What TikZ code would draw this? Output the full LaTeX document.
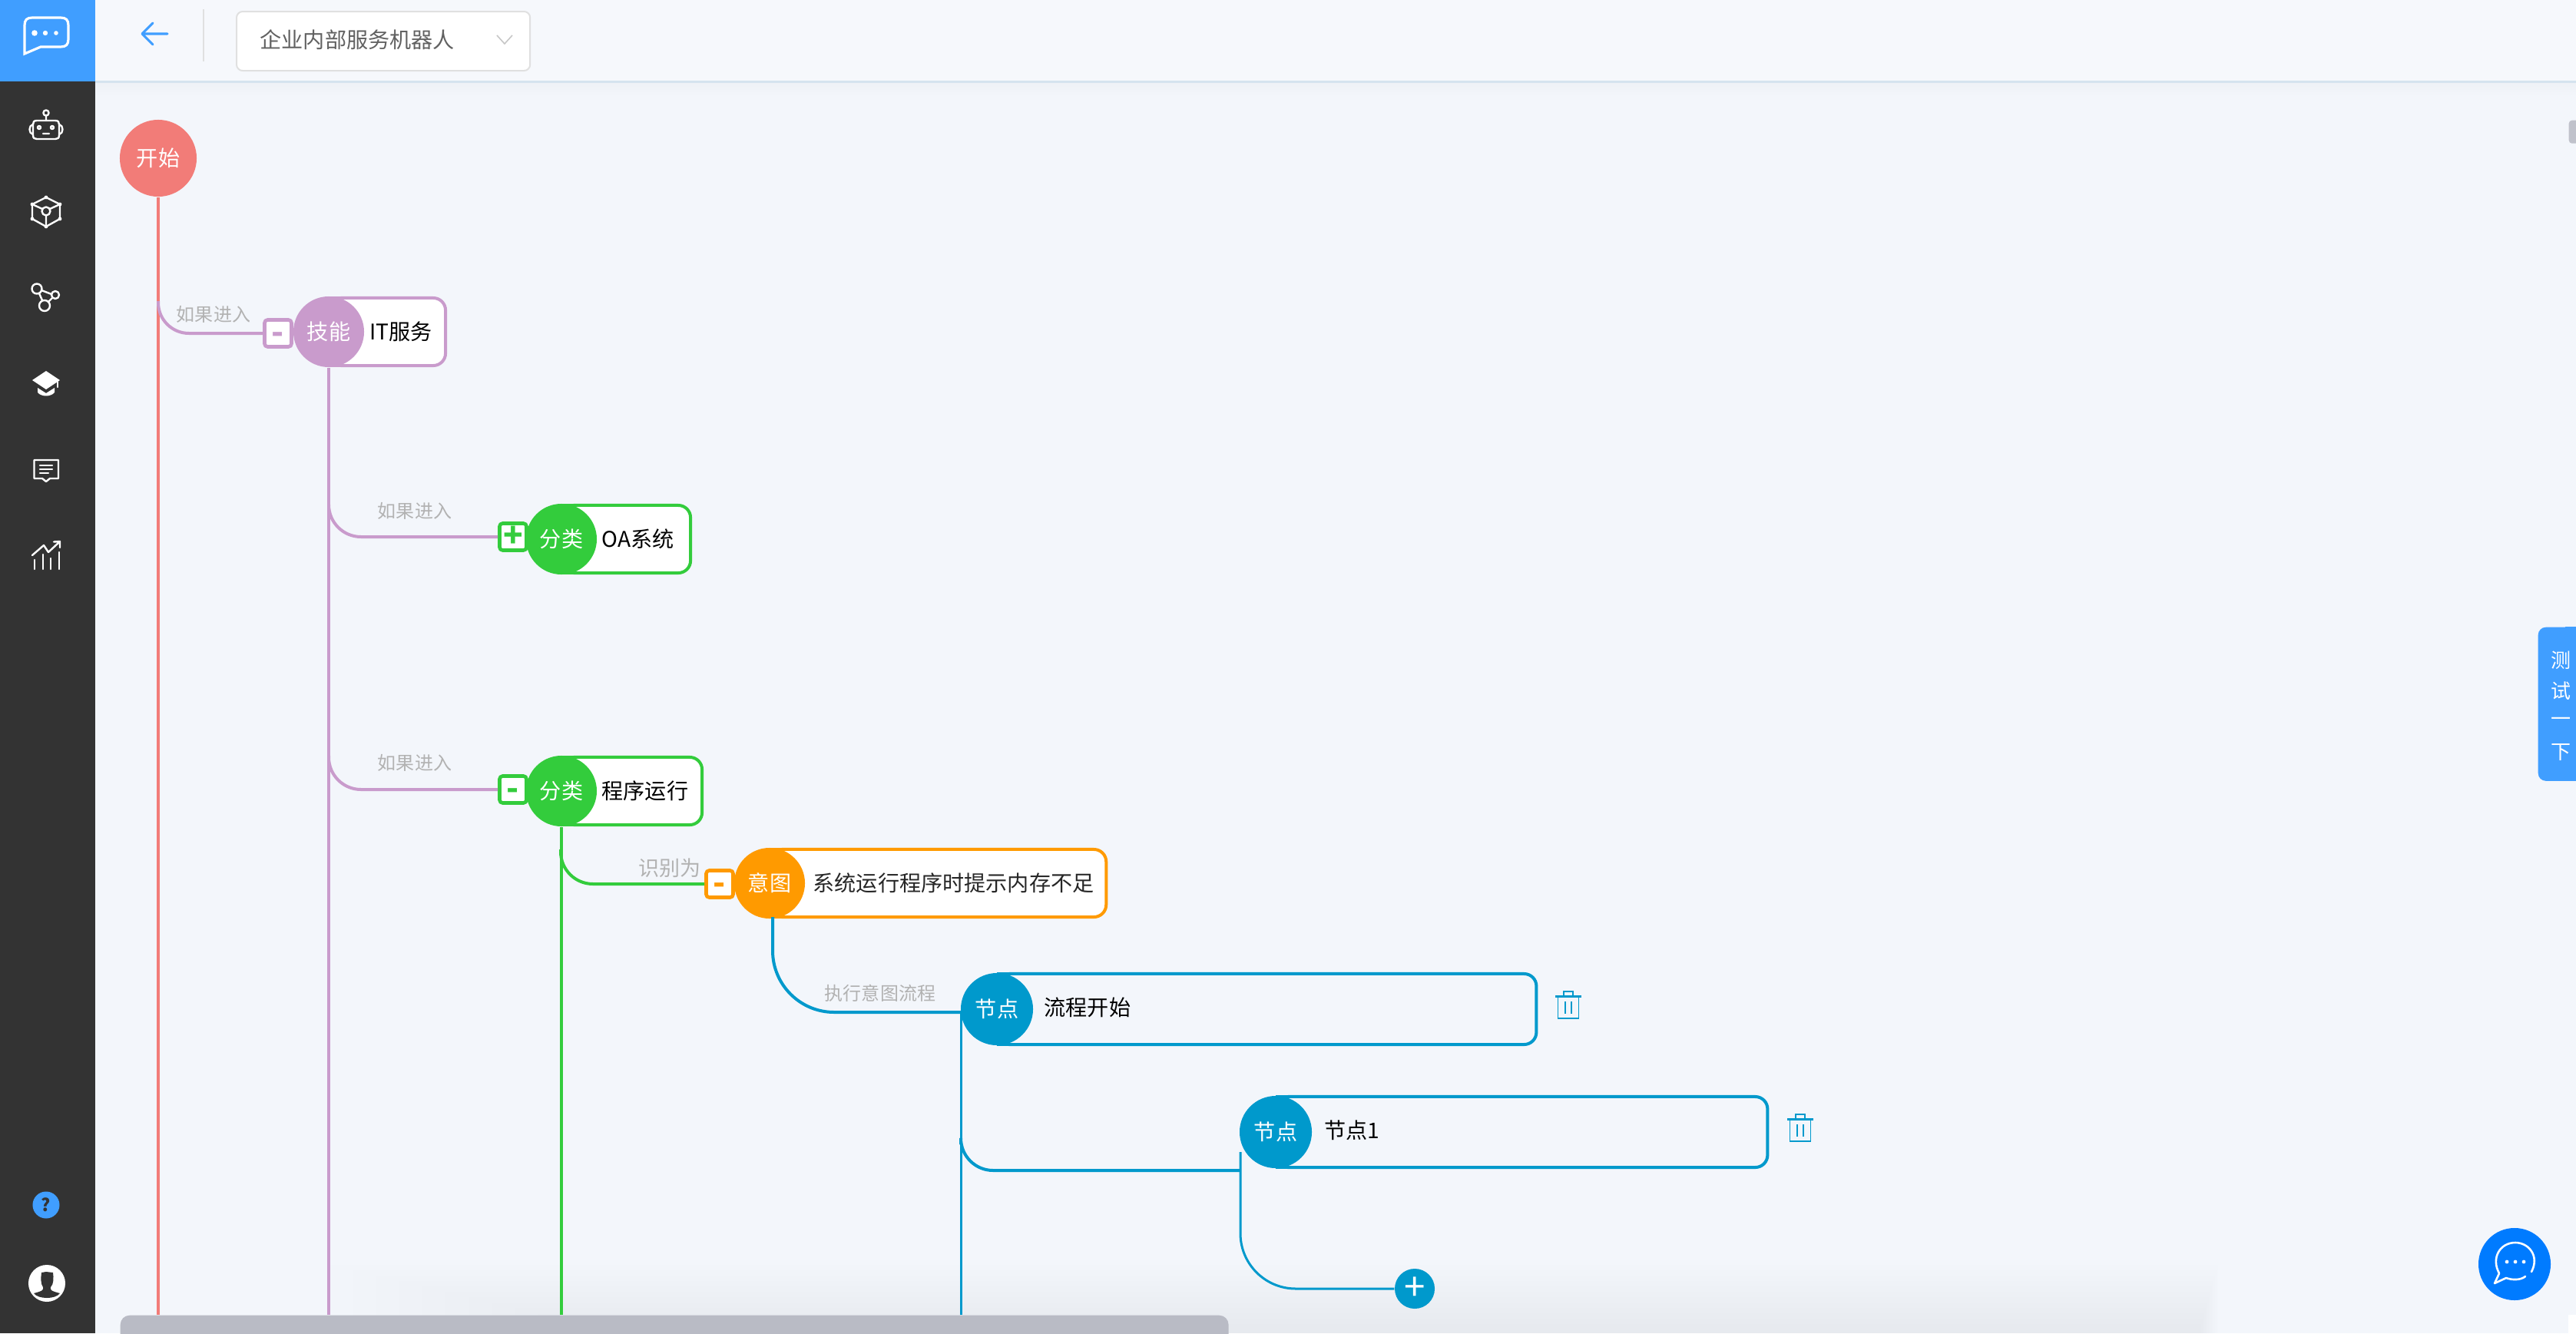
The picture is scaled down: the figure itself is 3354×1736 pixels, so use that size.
\documentclass[tikz,border=0pt]{standalone}
\usepackage{xcolor}
\usepackage{fontspec}
\setmainfont{Noto Sans CJK SC}
\usetikzlibrary{positioning,calc,arrows.meta}

\definecolor{pagebg}{HTML}{F3F6FB}
\definecolor{sidebg}{HTML}{333333}
\definecolor{appblue}{HTML}{409EFF}
\definecolor{cstart}{HTML}{F27C78}
\definecolor{cskill}{HTML}{C99BCC}
\definecolor{cclass}{HTML}{33CC3C}
\definecolor{cintent}{HTML}{FF9A00}
\definecolor{cflow}{HTML}{0099CC}
\definecolor{cbar}{HTML}{B9BBC5}
\definecolor{cchat}{HTML}{007BFF}
\definecolor{cheadline}{HTML}{D5E3EF}

\tikzset{
    headdot/.style={circle, fill=#1, text=white, inner sep=0pt, minimum size=0.92cm, font=\fontsize{8}{10}\selectfont},
    namebox/.style={draw=#1, fill=white, line width=4*0.2845pt, rounded corners=0.16cm, anchor=west, minimum height=0.88cm, inner sep=0pt, outer sep=0pt,
        append after command={(\tikzlastnode.north west) edge[draw=#1, line width=4*0.2845pt] +(22,0) (\tikzlastnode.south west) edge[draw=#1, line width=4*0.2845pt] +(22,0)}},
    nametext/.style={anchor=west, inner sep=0pt, text=black, font=\fontsize{8}{10}\selectfont},
    togglebox/.style={draw=#1, fill=white, text=#1, line width=4.6*0.2845pt, rounded corners=0.04cm, minimum size=0.35cm, inner sep=0pt, text height=7.7pt, text depth=0pt, font=\bfseries\fontsize{12}{12}\selectfont},
    iflabel/.style={inner sep=0pt, text=black!30, font=\fontsize{6.83}{8}\selectfont},
    tabchar/.style={text=white, inner sep=0pt, font=\fontsize{7.4}{9}\selectfont},
    trunk/.style={draw=#1, line width=4*0.2845pt},
    branch/.style={draw=#1, line width=4*0.2845pt},
    icon/.style={draw=white, line width=2.4*0.2845pt, line cap=round, line join=round},
    trash/.pic={
        \draw[draw=cflow, line width=1.6*0.2845pt] (-13.5,-11) rectangle (13.5,17);
        \draw[draw=cflow, line width=3*0.2845pt] (-17,-11.5) -- (17,-11.5);
        \draw[draw=cflow, line width=1.6*0.2845pt] (-6,-11) -- (-6,-18) -- (6,-18) -- (6,-11);
        \draw[draw=cflow, line width=1.2*0.2845pt] (-4,-5) -- (-4,11) (4,-5) -- (4,11);
    }
}

\begin{document}
\begin{tikzpicture}[x=0.01cm, y=-0.01cm]
    \useasboundingbox (0,0) rectangle (3354,1736);
    \fill[pagebg] (0,0) rectangle (3354,1736);

    % Soft shadows
    \foreach \k in {1,...,12}
        \fill[black, opacity=0.005] ({400+\k*30},{1640+\k*7}) rectangle ({2890-\k*2},1736);
    \shade[top color=black!2!pagebg, bottom color=pagebg] (124,108) rectangle (3354,125);

    % Top bar
    \fill[pagebg!75!white] (124,0) rectangle (3354,106);
    \draw[draw=cheadline, line width=3*0.2845pt] (124,106.5) -- (3354,106.5);
    \draw[draw=appblue, line width=3*0.2845pt, line cap=round, line join=round] (218,44) -- (186,44) (199,30) -- (185,44) -- (199,58);
    \draw[draw=black!12, line width=2*0.2845pt] (265,12) -- (265,80);
    \node[draw=black!12, fill=white, line width=2*0.2845pt, rounded corners=0.08cm, minimum width=3.82cm, minimum height=0.77cm, anchor=north west] (robotsel) at (307,14) {};
    \node[anchor=west, inner sep=0pt, text=black!62, font=\fontsize{8}{10}\selectfont] (robotname) at (338,52) {企业内部服务机器人};
    \draw[draw=black!22, line width=1.6*0.2845pt] (647,46) -- (657,57) -- (667,46);

    % Sidebar
    \fill[sidebg] (0,0) rectangle (124,1736);
    \fill[appblue] (0,0) rectangle (124,106);
    \draw[draw=white, line width=3.2*0.2845pt, line join=miter] (32,70) -- (32,33) .. controls (32,26) and (35,23) .. (42,23) -- (79,23) .. controls (86,23) and (89,26) .. (89,33) -- (89,51) .. controls (89,58) and (86,61) .. (79,61) -- (53,61) -- cycle;
    \fill[white] (45,43) circle (3.8) (59,43) circle (3.2) (73,43) circle (2.8);

    % robot
    \draw[icon] (48,157) -- (72,157) .. controls (76,157) and (77,159) .. (77,162) -- (77,176) .. controls (77,180) and (75,181) .. (72,181) -- (48,181) .. controls (45,181) and (43,180) .. (43,176) -- (43,162) .. controls (43,159) and (44,157) .. (48,157) -- cycle;
    \draw[icon] (60,157) -- (60,151) (60,147) circle (3.6);
    \draw[icon] (43,162) .. controls (37,163) and (37,174) .. (43,175) (77,162) .. controls (83,163) and (83,174) .. (77,175);
    \draw[icon] (51,166) circle (2) (68,166) circle (2) (56,174) -- (64,174);

    % cube
    \draw[icon] (60,257) -- (78,266) -- (78,285) -- (60,295) -- (42,285) -- (42,266) -- cycle;
    \draw[icon] (60,275) circle (5.5) (42,266) -- (55,272) (78,266) -- (65,272) (60,281) -- (60,295);
    \fill[white] (60,257) circle (2.4) (78,266) circle (2.4) (78,285) circle (2.4) (60,295) circle (2.4) (42,285) circle (2.4) (42,266) circle (2.4);

    % graph
    \draw[icon] (48,376) circle (6.5) (72,384) circle (5) (58,398) circle (7);
    \draw[icon] (54,378) -- (67,383) (51,382) -- (55,391) (68,388) -- (63,393);

    % cap
    \fill[white] (60,483) -- (78,495) -- (60,507) -- (42,495) -- cycle;
    \fill[white] (49,505) -- (60,512) -- (71,505) -- (71,511) .. controls (66,517) and (54,517) .. (49,511) -- cycle;
    \draw[icon] (75,497) -- (75,504);

    % comments
    \draw[icon] (44.5,599) -- (76,599) -- (76,623) -- (65,623) -- (60,627) -- (55,623) -- (44.5,623) -- cycle;
    \draw[icon] (52,606) -- (68,606) (52,611) -- (68,611) (52,616) -- (63,616);

    % stats
    \draw[icon] (45,729) -- (45,741) (56,722) -- (56,741) (66,727) -- (66,741) (77,719) -- (77,741);
    \draw[icon] (42,723) -- (57,710) -- (63,719) -- (77,706) (70,705.5) -- (78,705) -- (78,713);

    % help, avatar
    \node[circle, fill=appblue, text=sidebg, inner sep=0pt, minimum size=0.35cm, font=\bfseries\fontsize{6.5}{8}\selectfont] (helpdot) at (60,1569) {?};
    \node[circle, fill=white, inner sep=0pt, minimum size=0.48cm] (avatar) at (61,1671) {};
    \fill[sidebg] (54,1657) -- (60,1656) -- (69,1657) .. controls (70,1664) and (70,1672) .. (66,1676) .. controls (65,1680) and (67,1681) .. (78,1684) .. controls (72,1692) and (50,1692) .. (44,1684) .. controls (55,1681) and (57,1680) .. (56,1676) .. controls (53,1672) and (53,1664) .. (54,1657) -- cycle;

    % Scroll bars
    \node[fill=cbar, rounded corners=0.12cm, minimum width=14.42cm, minimum height=0.4cm, inner sep=0pt, anchor=north west] (hbar) at (156,1712) {};
    \fill[white] (3344,1712) rectangle (3354,1736);
    \node[fill=cbar!90!white, rounded corners=0.04cm, minimum width=0.16cm, minimum height=0.30cm, inner sep=0pt, anchor=north west] (vbar) at (3344,156) {};

    % Start
    \node[headdot=cstart, minimum size=1cm] (start) at (206,206) {开始};
    \draw[trunk=cstart] (start.south) -- (start.south |- hbar.north);

    % Skill
    \node[namebox=cskill, minimum width=1.52cm] (itbox) at (428,432) {};
    \node[headdot=cskill] (itdot) at (428,432) {技能};
    \node[nametext] (ittext) at (481,432) {IT服务};
    \node[togglebox=cskill] (ittog) at (362,434) {-};
    \coordinate (itfork) at (206,392);
    \draw[branch=cskill, rounded corners=0.4cm] (itfork) |- (ittog.west);
    \node[iflabel] (itif) at (278,409) {如果进入};
    \draw[trunk=cskill] (itdot.south) -- (itdot.south |- hbar.north);

    % OA
    \node[namebox=cclass, minimum width=1.68cm] (oabox) at (731,702) {};
    \node[headdot=cclass] (oadot) at (731,702) {分类};
    \node[nametext] (oatext) at (783,702) {OA系统};
    \node[togglebox=cclass] (oatog) at (668,699) {+};
    \coordinate (oafork) at (428,658);
    \draw[branch=cskill, rounded corners=0.42cm] (oafork) |- (oatog.west);
    \node[iflabel] (oaif) at (540,665) {如果进入};

    % Run
    \node[namebox=cclass, minimum width=1.83cm] (runbox) at (731,1030) {};
    \node[headdot=cclass] (rundot) at (731,1030) {分类};
    \node[nametext] (runtext) at (783,1030) {程序运行};
    \node[togglebox=cclass] (runtog) at (668,1028) {-};
    \coordinate (runfork) at (428,984);
    \draw[branch=cskill, rounded corners=0.42cm] (runfork) |- (runtog.west);
    \node[iflabel] (runif) at (540,993) {如果进入};
    \draw[trunk=cclass] (rundot.south) -- (rundot.south |- hbar.north);

    % Intent
    \node[namebox=cintent, minimum width=4.38cm] (memobox) at (1002,1150) {};
    \node[headdot=cintent] (memodot) at (1002,1150) {意图};
    \node[nametext, text=black!85] (memotext) at (1058,1150) {系统运行程序时提示内存不足};
    \node[togglebox=cintent] (memotog) at (937,1151) {-};
    \coordinate (memofork) at (730,1106);
    \draw[branch=cclass, rounded corners=0.42cm] (memofork) |- (memotog.west);
    \node[iflabel, font=\fontsize{7.7}{9}\selectfont] (memoif) at (872,1130) {识别为};

    % Flow start
    \node[namebox=cflow, fill=pagebg, minimum width=7.02cm, minimum height=0.92cm] (flowbox) at (1298,1314) {};
    \node[headdot=cflow, minimum size=0.94cm] (flowdot) at (1298,1314) {节点};
    \node[nametext] (flowtext) at (1359,1312) {流程开始};
    \coordinate (memoout) at (1006,1194);
    \coordinate (flowin) at (1251,1318);
    \draw[branch=cflow, rounded corners=0.8cm] (memoout) |- (flowin);
    \node[iflabel] (flowif) at (1146,1293) {执行意图流程};
    \draw[trunk=cflow, line width=3*0.2845pt] (flowin) -- (flowin |- hbar.north);
    \pic at (2042,1309) {trash};

    % Node 1
    \node[namebox=cflow, fill=pagebg, minimum width=6.40cm, minimum height=0.92cm] (stepbox) at (1661,1474) {};
    \node[headdot=cflow, minimum size=0.94cm] (stepdot) at (1661,1474) {节点};
    \node[nametext] (steptext) at (1724,1472) {节点1};
    \coordinate (stepin) at (1615,1524);
    \coordinate (stepfork) at (1251,1490);
    \draw[branch=cflow, rounded corners=0.42cm] (stepfork) |- (stepin);
    \pic at (2344,1469) {trash};

    % Add
    \node[circle, fill=cflow, text=white, inner sep=0pt, minimum size=0.52cm, font=\fontsize{14}{14}\selectfont] (adddot) at (1842,1678) {+};
    \coordinate (stepout) at (1615,1500);
    \draw[branch=cflow, line width=3*0.2845pt, rounded corners=0.72cm] (stepout) |- (adddot.west);

    % Test tab
    \node[fill=appblue, rounded corners=0.1cm, minimum width=0.7cm, minimum height=2cm, inner sep=0pt, anchor=north west] (testtab) at (3304,816) {};
    \fill[appblue] (3340,816) rectangle (3354,1016);
    \node[tabchar] (testa) at (3334,860) {测};
    \node[tabchar] (testb) at (3334,900) {试};
    \node[tabchar] (testc) at (3334,940) {一};
    \node[tabchar] (testd) at (3334,980) {下};

    % Chat button
    \node[circle, fill=cchat, inner sep=0pt, minimum size=0.94cm] (chatbtn) at (3274,1646) {};
    \fill[white] (3264,1643) circle (2.4) (3275,1643) circle (2.4) (3286,1643) circle (2.4);
    \draw[draw=white, line width=2.6*0.2845pt, line cap=round, line join=round] (3296,1656) .. controls (3307,1635) and (3292,1618) .. (3275,1618) .. controls (3255,1618) and (3243,1638) .. (3254,1658) -- (3248,1671) -- (3263,1664) .. controls (3271,1667) and (3282,1667) .. (3288,1662);
\end{tikzpicture}
\end{document}
